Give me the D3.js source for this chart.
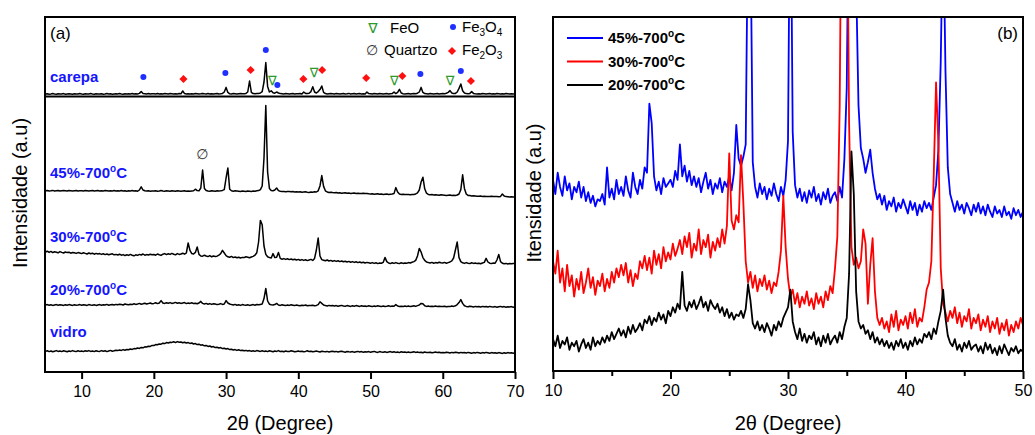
<!DOCTYPE html>
<html>
<head>
<meta charset="utf-8">
<script src="https://cdn.jsdelivr.net/npm/d3@7"></script>
<style>
body { margin: 0; background: #fff; }
svg text { font-family: Arial, "Liberation Sans", sans-serif; }
.frame { fill: none; stroke: #000; stroke-width: 2; }
.trace { fill: none; stroke-width: 1.5; stroke-linejoin: round; }
.traceB { fill: none; stroke-width: 1.8; stroke-linejoin: round; }
.axis path { display: none; }
.axis line { stroke: #000; stroke-width: 2; }
.axis text { font-size: 16px; fill: #000; font-family: Arial, "Liberation Sans", sans-serif; }
.sample { font-size: 15px; font-weight: bold; fill: #1414ff; }
.legB { font-size: 15px; font-weight: bold; fill: #000; }
.title { font-size: 20px; fill: #000; }
</style>
</head>
<body>
<svg id="chart" width="1035" height="435"></svg>
<script>

// ---- data: panel (a), 2theta from 5 to 70 every 0.25 deg (counts)
var carepa = [
  50,51,49,50,52,50,49,51,50,50,52,49,50,51,50,49,51,50,50,52,
  50,49,51,50,50,52,50,49,51,50,50,51,49,50,52,50,51,49,50,51,
  50,52,50,49,51,50,51,50,52,50,51,50,53,62,52,51,50,52,50,51,
  51,50,52,50,51,50,52,51,50,52,51,50,51,50,52,51,65,52,50,51,
  50,51,50,52,51,50,51,53,51,50,52,50,51,50,51,52,50,51,53,60,
  83,58,51,50,52,51,50,51,52,51,51,53,60,115,58,52,51,52,53,55,
  62,110,207,88,60,66,56,54,60,55,52,51,50,52,51,50,51,52,50,51,
  51,52,50,60,53,52,54,62,86,60,55,62,72,90,58,52,50,51,52,51,
  50,52,51,50,51,52,50,51,53,50,51,52,50,51,52,50,51,50,60,52,
  51,50,52,51,50,52,51,50,51,52,50,51,52,60,52,58,73,55,51,50,
  51,52,50,51,52,51,54,60,83,58,52,51,50,52,51,50,51,52,50,51,
  52,51,54,58,67,55,52,53,60,78,100,66,55,52,51,53,62,53,51,50,
  51,50,52,51,50,51,52,50,51,50,52,51,50,51,50,52,51,50,51,50,
  51];

var film45 = [
  56,57,55,56,58,55,56,57,55,56,57,56,55,57,56,55,56,57,55,56,
  56,55,57,56,55,56,57,55,56,57,55,56,55,57,56,55,56,55,57,55,
  56,55,57,55,56,54,56,55,57,55,56,54,60,76,60,56,55,56,54,55,
  55,56,54,55,57,55,54,56,55,54,56,55,54,56,55,54,55,56,54,55,
  54,55,56,64,57,56,70,160,68,57,55,54,56,55,54,56,55,56,58,62,
  120,170,64,56,54,56,55,54,53,55,54,53,55,54,53,55,54,56,57,62,
  80,220,482,150,68,58,56,60,70,57,54,52,53,51,52,53,51,52,50,51,
  50,51,49,50,51,49,48,50,49,51,50,56,80,132,78,56,50,48,49,47,
  46,47,45,46,44,45,46,44,45,43,44,45,43,44,42,43,44,42,43,41,
  40,41,39,40,41,39,40,38,39,40,38,39,40,42,72,50,40,38,39,38,
  37,38,36,37,38,40,46,60,100,124,66,44,38,36,37,35,36,35,34,36,
  35,34,33,34,35,33,34,33,35,40,62,136,68,40,33,32,30,31,30,29,
  29,30,28,29,28,27,28,29,27,28,27,26,28,40,30,27,26,25,26,25,
  25];

var film30 = [
  100,104,98,103,97,101,99,96,102,98,95,100,97,99,94,98,96,93,97,95,
  92,96,93,90,95,91,94,89,93,90,92,88,91,87,90,86,89,91,86,88,
  85,89,84,87,82,86,83,88,84,81,86,83,88,85,90,84,87,85,89,86,
  88,84,90,86,83,89,92,87,91,88,93,89,86,92,88,90,94,89,95,145,
  108,92,90,98,125,88,80,79,84,80,77,82,76,80,78,79,84,92,108,95,
  82,76,74,78,72,75,71,74,70,73,72,76,74,71,75,78,84,96,150,258,
  236,130,88,76,72,70,92,72,74,98,68,64,67,63,66,62,65,61,64,60,
  63,59,62,58,61,57,60,63,58,68,110,170,80,62,59,56,60,55,58,54,
  57,53,56,52,55,51,54,50,53,49,52,48,51,47,50,46,49,45,48,46,
  44,47,43,46,42,45,44,48,73,52,45,42,46,43,47,44,42,46,43,45,
  44,47,45,49,52,58,80,118,100,72,58,50,47,45,48,44,47,45,49,46,
  45,48,44,47,50,56,70,110,150,72,52,46,43,47,44,42,46,43,45,42,
  44,41,45,48,68,50,44,42,45,44,60,88,52,44,41,43,40,42,41,43,
  42];

var film20 = [
  50,52,49,51,48,50,52,49,51,50,48,51,49,52,50,48,51,49,50,52,
  49,51,50,48,52,50,49,51,48,50,52,49,51,50,53,49,51,52,50,53,
  51,54,52,50,55,53,51,54,52,56,53,55,58,54,56,59,55,57,60,56,
  58,61,57,60,72,60,58,61,59,62,58,60,63,59,61,58,60,62,57,60,
  58,61,57,59,56,60,68,58,55,58,54,57,53,56,55,52,54,57,53,55,
  72,60,55,52,50,53,49,51,48,52,50,49,51,48,50,52,49,53,51,53,
  55,82,133,70,54,51,50,52,58,50,48,51,49,47,50,48,51,49,47,50,
  48,46,49,47,50,46,48,47,49,46,48,52,66,58,50,47,45,48,46,47,
  45,47,44,46,48,45,44,47,45,43,46,44,47,45,43,46,44,45,43,46,
  44,42,45,43,46,44,42,45,43,44,46,43,45,44,52,45,43,44,42,45,
  43,45,42,44,46,43,47,50,58,56,46,43,45,42,44,43,45,42,44,43,
  42,44,41,43,42,45,43,46,52,62,77,58,46,43,41,44,42,40,43,41,
  42,40,43,41,42,40,43,41,40,42,39,41,43,40,42,39,41,40,42,39,
  41];

var vidro = [
  53,56,52,55,51,54,57,53,55,52,56,54,51,55,53,57,54,52,56,53,
  55,52,56,54,57,53,55,52,56,54,53,57,54,56,52,55,58,54,56,59,
  57,60,58,62,59,63,61,65,63,67,66,70,68,73,71,76,75,79,78,83,
  82,87,86,90,89,94,92,97,95,99,98,101,97,102,99,100,96,99,95,97,
  93,95,90,92,87,89,84,86,81,83,78,80,75,77,72,74,70,72,67,69,
  65,67,62,64,60,62,58,61,57,59,56,58,55,57,54,56,53,57,55,53,
  56,53,55,52,56,54,51,55,53,57,52,54,51,55,53,52,56,54,51,53,
  55,52,54,51,53,56,52,54,51,53,55,52,50,54,52,51,53,50,52,54,
  51,53,50,52,54,51,49,53,51,50,52,49,51,53,50,52,49,51,50,52,
  49,51,53,50,48,52,50,49,51,48,50,52,49,51,48,50,47,51,49,50,
  48,50,47,49,51,48,50,47,49,46,50,48,47,49,46,48,50,47,49,46,
  48,46,49,47,45,48,46,49,47,45,48,46,47,45,48,46,44,47,45,48,
  46,44,47,45,48,46,44,47,45,46,44,47,45,43,46,44,47,45,46,44,
  46];

var namesA = ['carepa', '45%-700', '30%-700', '20%-700', 'vidro'];
var withTempA = [false, true, true, true, false];

// phase markers over the carepa pattern
var markTheta = [18.55, 24.1, 29.9, 33.4, 35.5, 36.4, 37.1, 40.7, 42.2, 43.3, 49.4, 53.3, 54.4, 56.9, 61.0, 62.5, 63.9];
var markPhase = ['Fe3O4','Fe2O3','Fe3O4','Fe2O3','Fe3O4','FeO','Fe3O4','Fe2O3','FeO','Fe2O3','Fe2O3','FeO','Fe2O3','Fe3O4','FeO','Fe3O4','Fe2O3'];
var markLevel = [135, 125, 155, 170, 270, 120, 95, 125, 160, 170, 130, 120, 140, 150, 120, 165, 115];
var quartzTheta = 26.7, quartzLevel = 240;

// ---- data: panel (b), 2theta from 10 to 50 every 0.2 deg (a.u.)
var film45b = [
  108,100,112,104,99,110,102,106,97,104,
  101,107,98,104,96,101,95,99,93,97,
  96,100,94,115,98,103,97,108,100,104,
  99,110,102,98,112,104,100,108,103,115,
  112,151,140,110,102,107,100,109,104,106,
  108,104,113,108,128,110,116,107,113,105,
  110,104,109,101,107,112,103,108,100,106,
  103,109,101,107,104,110,102,112,139,120,
  116,121,128,260,255,118,104,98,106,100,
  104,97,103,99,106,100,96,104,99,108,
  130,300,135,105,98,103,96,101,95,102,
  98,104,96,100,94,101,97,103,95,99,
  101,96,104,98,120,160,290,360,340,220,
  150,126,120,112,118,125,112,103,97,100,
  94,99,91,96,93,98,90,95,92,97,
  93,89,96,91,95,88,94,90,96,92,
  95,91,98,105,125,175,260,170,115,100,
  95,90,96,91,94,89,95,92,88,94,
  90,95,89,93,88,94,90,87,93,89,
  91,87,93,88,90,86,92,88,91,87,
  90];

var film30b = [
  62,55,68,50,58,45,60,48,54,42,
  52,46,56,44,50,58,47,53,43,51,
  48,55,45,52,47,56,50,58,53,60,
  54,61,50,57,48,55,52,62,58,65,
  57,64,55,68,60,66,58,70,62,67,
  63,72,65,69,74,66,76,70,78,64,
  72,68,80,66,74,70,77,64,73,68,
  75,70,80,72,82,123,85,80,88,84,
  122,95,62,50,56,47,54,45,52,48,
  54,46,51,44,50,48,56,68,99,70,
  52,42,46,38,44,36,42,38,45,37,
  41,35,44,38,42,36,45,40,48,44,
  58,76,150,320,330,300,140,70,60,64,
  58,62,80,72,38,60,75,45,30,26,
  30,24,28,22,32,25,34,23,29,26,
  31,24,33,27,35,25,30,28,36,46,
  50,62,110,163,128,58,38,33,28,34,
  30,36,27,33,25,31,28,35,24,30,
  27,32,23,29,25,31,22,28,24,30,
  21,27,23,29,20,26,22,28,24,30,
  26];

var film20b = [
  18,14,20,13,17,15,19,12,16,14,
  17,11,15,18,13,16,12,19,14,17,
  15,19,16,20,17,22,18,21,24,20,
  23,19,25,21,26,22,24,27,23,29,
  27,31,26,30,28,33,29,32,27,34,
  31,36,33,38,35,56,37,34,39,36,
  40,35,38,42,36,39,34,40,37,35,
  38,33,36,31,35,30,33,29,32,31,
  34,30,35,49,40,27,24,28,23,26,
  22,27,24,20,26,23,28,25,30,33,
  36,46,28,22,18,24,17,21,16,20,
  18,22,15,19,14,20,16,21,15,18,
  20,16,22,18,25,30,55,124,100,45,
  28,24,26,21,23,18,22,16,19,15,
  18,14,17,13,16,12,17,14,18,13,
  16,12,17,14,19,15,18,16,21,19,
  22,18,24,21,28,34,46,30,20,16,
  14,18,12,15,11,16,13,17,12,14,
  15,11,14,10,16,12,15,10,13,9,
  14,10,15,12,9,13,11,14,10,12,
  11];

var namesB = ['45%-700', '30%-700', '20%-700'];
var colorsB = ['#0000ff', '#ff0000', '#000000'];

var ticksA = [10, 20, 30, 40, 50, 60, 70];
var ticksB = [10, 20, 30, 40, 50];
var minorB = [15, 25, 35, 45];

// ---- layout
var thetaA = d3.range(0, 261).map(function(i){ return 5 + i * 0.25; });
var thetaB = d3.range(0, 201).map(function(i){ return 10 + i * 0.2; });
var seriesA = [carepa, film45, film30, film20, vidro];
var offsetsA = [1340, 850, 500, 285, 50];
var labelLevelA = [1475, 995, 675, 410, 200];
var sepLevel = 1378;
var seriesB = [film45b, film30b, film20b];

seriesA.forEach(function(s, k){ if (s.length !== thetaA.length) throw new Error('A' + k + ' ' + s.length); });
seriesB.forEach(function(s, k){ if (s.length !== thetaB.length) throw new Error('B' + k + ' ' + s.length); });

var svg = d3.select('#chart');
svg.append('rect').attr('width', 1035).attr('height', 435).attr('fill', '#fff');

function addTemp(sel, base) {
  sel.append('tspan').text(base);
  sel.append('tspan').attr('dy', -6).style('font-size', '10px').text('o');
  sel.append('tspan').attr('dy', 6).text('C');
}

function addChem(sel, parts) {
  // parts: [text, subscript, text, subscript]
  sel.append('tspan').text(parts[0]);
  sel.append('tspan').attr('dy', 4).style('font-size', '10px').text(parts[1]);
  sel.append('tspan').attr('dy', -4).text(parts[2]);
  sel.append('tspan').attr('dy', 4).style('font-size', '10px').text(parts[3]);
}

// ================= panel (a)
var xA = d3.scaleLinear().domain([5, 70]).range([45.5, 515]);
var yA = d3.scaleLinear().domain([0, 1775]).range([372, 17]);
var gA = svg.append('g');

gA.append('line')
  .attr('x1', xA(5)).attr('x2', xA(70))
  .attr('y1', yA(sepLevel)).attr('y2', yA(sepLevel))
  .attr('stroke', '#000').attr('stroke-width', 2);

seriesA.forEach(function(s, k){
  var line = d3.line()
    .x(function(d, i){ return xA(thetaA[i]); })
    .y(function(d){ return yA(d + offsetsA[k]); });
  gA.append('path').datum(s)
    .attr('class', 'trace')
    .attr('stroke', '#000')
    .attr('d', line);
});

// sample names
namesA.forEach(function(n, k){
  var t = gA.append('text')
    .attr('class', 'sample')
    .attr('x', 50)
    .attr('y', yA(labelLevelA[k]) + 5);
  if (withTempA[k]) addTemp(t, n); else t.text(n);
});

// phase markers
markTheta.forEach(function(th, k){
  var x = xA(th), y = yA(markLevel[k] + offsetsA[0]);
  if (markPhase[k] === 'Fe3O4') {
    gA.append('circle').attr('cx', x).attr('cy', y).attr('r', 3).attr('fill', '#1f2fff');
  } else if (markPhase[k] === 'Fe2O3') {
    gA.append('path').attr('d', d3.symbol(d3.symbolDiamond2, 42)())
      .attr('transform', 'translate(' + x + ',' + y + ')').attr('fill', '#ff1010');
  } else {
    gA.append('text').attr('x', x).attr('y', y + 5).attr('text-anchor', 'middle')
      .style('font-family', '"DejaVu Sans", sans-serif').style('font-size', '13px')
      .attr('fill', '#2a9a2a').text('\u2207');
  }
});

gA.append('text').attr('x', xA(quartzTheta)).attr('y', yA(quartzLevel + offsetsA[1]) + 5)
  .attr('text-anchor', 'middle').style('font-family', '"DejaVu Sans", sans-serif')
  .style('font-size', '14px').attr('fill', '#333').text('\u2205');

// legend (a)
gA.append('text').attr('x', 373).attr('y', 33).attr('text-anchor', 'middle')
  .style('font-family', '"DejaVu Sans", sans-serif').style('font-size', '14px')
  .attr('fill', '#2a9a2a').text('\u2207');
gA.append('text').attr('x', 390).attr('y', 33).style('font-size', '15px').text('FeO');
gA.append('circle').attr('cx', 453).attr('cy', 27).attr('r', 3).attr('fill', '#1f2fff');
addChem(gA.append('text').attr('x', 462).attr('y', 32).style('font-size', '15px'), ['Fe', '3', 'O', '4']);
gA.append('text').attr('x', 372).attr('y', 55).attr('text-anchor', 'middle')
  .style('font-family', '"DejaVu Sans", sans-serif').style('font-size', '14px')
  .attr('fill', '#333').text('\u2205');
gA.append('text').attr('x', 384).attr('y', 55).style('font-size', '15px').text('Quartzo');
gA.append('path').attr('d', d3.symbol(d3.symbolDiamond2, 42)())
  .attr('transform', 'translate(452,51)').attr('fill', '#ff1010');
addChem(gA.append('text').attr('x', 462).attr('y', 55).style('font-size', '15px'), ['Fe', '2', 'O', '3']);

gA.append('text').attr('x', 50).attr('y', 39).style('font-size', '17px').text('(a)');

gA.append('rect').attr('class', 'frame')
  .attr('x', 45).attr('y', 17).attr('width', 470).attr('height', 355);

gA.append('g').attr('class', 'axis')
  .attr('transform', 'translate(0,372)')
  .call(d3.axisBottom(xA).tickValues(ticksA).tickSize(7).tickPadding(7).tickFormat(d3.format('d')));

gA.append('text').attr('class', 'title').attr('x', 280).attr('y', 430)
  .attr('text-anchor', 'middle').text('2\u03b8 (Degree)');
gA.append('text').attr('class', 'title')
  .attr('transform', 'translate(27,193) rotate(-90)')
  .attr('text-anchor', 'middle').text('Intensidade (a.u)');

// ================= panel (b)
var xB = d3.scaleLinear().domain([10, 50]).range([553, 1023]);
var yB = d3.scaleLinear().domain([0, 200]).range([371, 17]);
var gB = svg.append('g');

svg.append('clipPath').attr('id', 'clipB')
  .append('rect').attr('x', 553).attr('y', 17).attr('width', 470).attr('height', 354);

seriesB.forEach(function(s, k){
  var line = d3.line()
    .x(function(d, i){ return xB(thetaB[i]); })
    .y(function(d){ return yB(d); });
  gB.append('path').datum(s)
    .attr('class', 'traceB')
    .attr('clip-path', 'url(#clipB)')
    .attr('stroke', colorsB[k])
    .attr('d', line);
});

// legend (b)
namesB.forEach(function(n, k){
  var y = 38 + k * 23.5;
  gB.append('line').attr('x1', 567).attr('x2', 603).attr('y1', y).attr('y2', y)
    .attr('stroke', colorsB[k]).attr('stroke-width', 2);
  addTemp(gB.append('text').attr('class', 'legB').attr('x', 608).attr('y', y + 5), n);
});

gB.append('text').attr('x', 1018).attr('y', 39).attr('text-anchor', 'end')
  .style('font-size', '17px').text('(b)');

gB.append('rect').attr('class', 'frame')
  .attr('x', 553).attr('y', 17).attr('width', 470).attr('height', 354);

gB.append('g').attr('class', 'axis')
  .attr('transform', 'translate(0,371)')
  .call(d3.axisBottom(xB).tickValues(ticksB).tickSize(8).tickPadding(6).tickFormat(d3.format('d')));
gB.append('g').attr('class', 'axis')
  .attr('transform', 'translate(0,371)')
  .call(d3.axisBottom(xB).tickValues(minorB).tickSize(5).tickFormat(''));

gB.append('text').attr('class', 'title').attr('x', 788).attr('y', 430)
  .attr('text-anchor', 'middle').text('2\u03b8 (Degree)');
gB.append('text').attr('class', 'title')
  .attr('transform', 'translate(541,193) rotate(-90)')
  .attr('text-anchor', 'middle').text('Itensidade (a.u)');

</script>
</body>
</html>
